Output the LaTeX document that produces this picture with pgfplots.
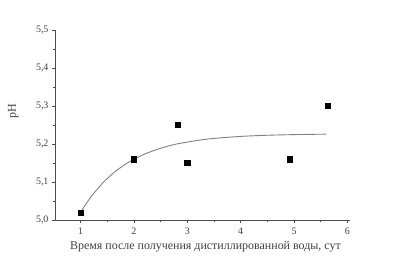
\documentclass[border=0pt]{standalone}
\usepackage{pgfplots}
\pgfplotsset{compat=1.18}
\usepackage{fontspec}
\setmainfont{Liberation Serif}
\begin{document}
\begin{tikzpicture}
\useasboundingbox (0,0) rectangle (409bp,263bp);
\begin{axis}[
  at={(55bp,43bp)}, anchor=south west,
  scale only axis, width=295bp, height=190bp,
  xmin=0.52, xmax=6.05, ymin=5.0, ymax=5.5,
  axis lines=left, axis line style={-, line width=0.8pt, black!70},
  xtick={1,2,3,4,5,6}, minor xtick={1.5,2.5,3.5,4.5,5.5},
  ytick={5.0,5.1,5.2,5.3,5.4,5.5}, minor ytick={5.05,5.15,5.25,5.35,5.45},
  tick align=outside, major tick length=3bp, minor tick length=2bp,
  tick style={black!70, line width=0.6pt},
  /pgf/number format/assume math mode=true,
  yticklabel style={/pgf/number format/.cd, fixed, fixed zerofill, precision=1, use comma},
  ticklabel style={font=\fontsize{10}{12}\selectfont, text=black!75},
  xticklabel style={yshift=-1bp},
  xlabel={Время после получения дистиллированной воды, сут},
  ylabel={pH},
  label style={font=\fontsize{12}{14}\selectfont, text=black!75},
  xlabel style={at={(axis description cs:0.51,-0.095)}, anchor=north},
  ylabel style={at={(axis description cs:-0.142,0.574)}, anchor=center},
  clip=false,
]
\addplot[gray, line width=0.9pt, smooth] coordinates {
(1.0,5.020) (1.1,5.042) (1.2,5.062) (1.3,5.079) (1.4,5.095) (1.5,5.109)
(1.6,5.122) (1.7,5.133) (1.8,5.143) (1.9,5.152) (2.0,5.160) (2.2,5.1735)
(2.4,5.184) (2.6,5.193) (2.8,5.200) (3.0,5.205) (3.25,5.2106) (3.5,5.2147)
(4.0,5.2200) (4.5,5.2230) (5.0,5.2247) (5.6,5.2259)
};
\addplot[only marks, mark=square*, mark size=2.7pt, black] coordinates {
(1,5.02) (2,5.16) (2.82,5.25) (3.0,5.15) (4.92,5.16) (5.63,5.30)
};
\end{axis}
\end{tikzpicture}
\end{document}
